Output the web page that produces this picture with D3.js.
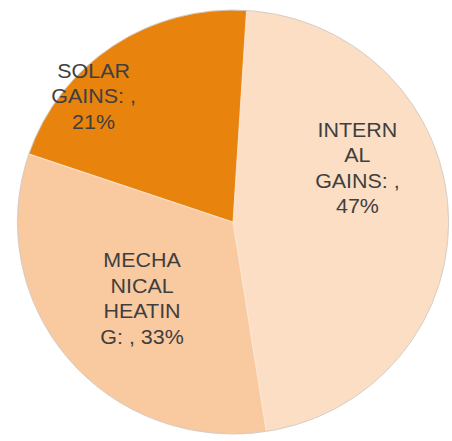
<!DOCTYPE html>
<html lang="en">
<head>
  <meta charset="UTF-8">
  <title>Heat gains</title>
  <style>
    body { margin: 0; background: #fff; }
  </style>
</head>
<body>
  <script src="https://d3js.org/d3.v7.min.js"></script>
  <div id="chart"></div>
  <script>
  // data
  var categories = ["INTERNAL GAINS", "MECHANICAL HEATING", "SOLAR GAINS"];
  var shares = [47, 33, 21];
  // label lines as Excel wrapped them
  var labelLines = [
    ["INTERN", "AL", "GAINS: ,", "47%"],
    ["MECHA", "NICAL", "HEATIN", "G: , 33%"],
    ["SOLAR", "GAINS: ,", "21%"]
  ];

  var width = 452, height = 441;
  var cx = 233, cy = 222, radius = 212;
  var colors = ["#fbdec3", "#f9c9a0", "#e8830d"];

  // label placement: angle (deg, clockwise from top) and fraction of radius
  var labelPos = [[66.5, 0.64], [230, 0.56], [312, 0.885]];

  var svg = d3.select("#chart")
    .append("svg")
      .attr("width", width)
      .attr("height", height);

  var g = svg.append("g")
    .attr("transform", "translate(" + cx + "," + cy + ") scale(1.017,1)");

  var pie = d3.pie()
    .sort(null)
    .startAngle(3.6 * Math.PI / 180)
    .endAngle(3.6 * Math.PI / 180 + 2 * Math.PI);

  var arc = d3.arc().innerRadius(0).outerRadius(radius);

  var arcs = pie(shares);

  g.selectAll("path.slice")
    .data(arcs)
    .enter().append("path")
      .attr("class", "slice")
      .attr("d", arc)
      .style("fill", function(d, i) { return colors[i]; })
      .style("stroke", "#fbe9da")
      .style("stroke-width", 0.8);

  // faint outline round the pie
  g.append("circle")
    .attr("r", radius)
    .style("fill", "none")
    .style("stroke", "#b8b8b8")
    .style("stroke-width", 0.8)
    .style("stroke-opacity", 0.7);

  var lineH = 25.5;
  arcs.forEach(function(d, i) {
    var p = d3.pointRadial(labelPos[i][0] * Math.PI / 180, labelPos[i][1] * radius);
    var lines = labelLines[i];
    var t = svg.append("text")
      .attr("transform", "translate(" + (cx + p[0]) + "," + (cy + p[1]) + ") scale(1.1,1)")
      .attr("text-anchor", "middle")
      .style("font-family", "'Liberation Sans', Arial, sans-serif")
      .style("font-size", "19.5px")
      .style("fill", "#3f3f3f");
    var y0 = -(lines.length - 1) * lineH / 2;
    lines.forEach(function(s, k) {
      t.append("tspan")
        .attr("x", 0)
        .attr("y", y0 + k * lineH)
        .attr("dy", "0.36em")
        .text(s);
    });
  });
  </script>
</body>
</html>
